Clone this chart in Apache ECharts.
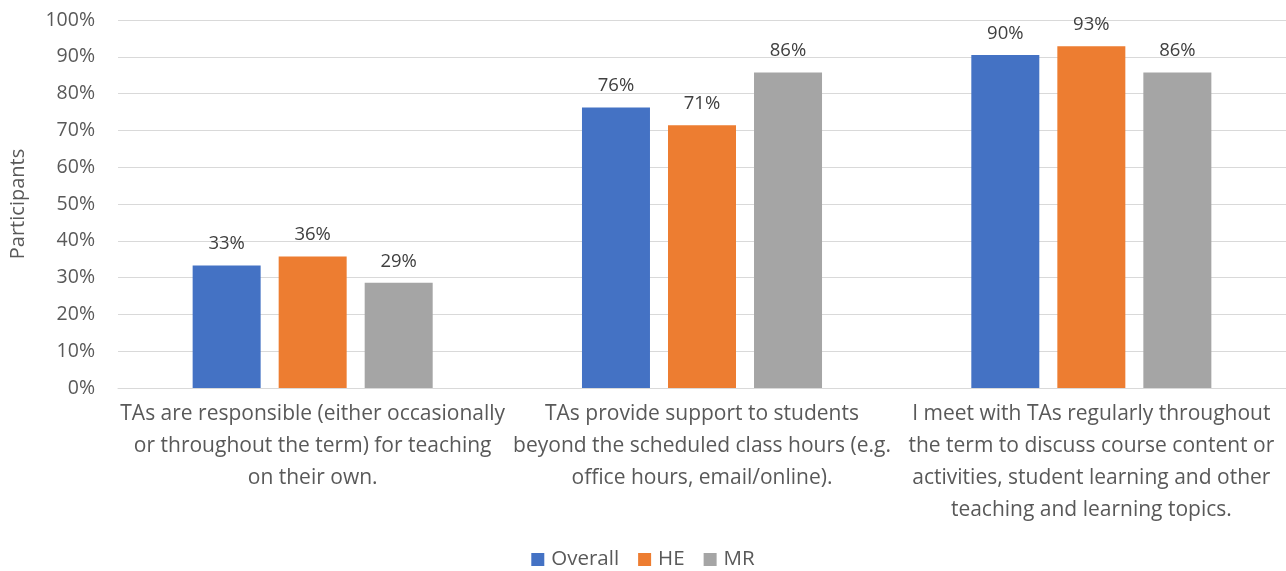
<!DOCTYPE html>
<html>
<head>
<meta charset="utf-8">
<script src="https://cdn.jsdelivr.net/npm/echarts@6/dist/echarts.min.js"></script>
<style>
  html, body { margin: 0; padding: 0; background: #ffffff; }
  #chart { width: 1286px; height: 571px; }
</style>
</head>
<body>
<div id="chart"></div>
<script>
// Statement categories (line breaks follow the wrapped axis text)
const categories = [
  "TAs are responsible (either occasionally\nor throughout the term) for teaching\non their own.",
  "TAs provide support to students\nbeyond the scheduled class hours (e.g.\noffice hours, email/online).",
  "I meet with TAs regularly throughout\nthe term to discuss course content or\nactivities, student learning and other\nteaching and learning topics."
];

// Share of participants (%) per group
const overall = [33.3, 76.2, 90.48];
const he = [35.7, 71.4, 92.9];
const mr = [28.6, 85.7, 85.7];

const seriesNames = ["Overall", "HE", "MR"];
const seriesColors = ["#4472C4", "#ED7D31", "#A5A5A5"];

const FONT = "Open Sans";
const TEXT = "#595959";

const chart = echarts.init(document.getElementById("chart"), null, { renderer: "canvas" });

function barSeries(name, data, color) {
  return {
    name: name,
    type: "bar",
    data: data,
    barWidth: 68,
    barGap: "26.5%",
    itemStyle: { color: color },
    label: {
      show: true,
      position: "top",
      distance: 12,
      color: "#404040",
      fontFamily: FONT,
      fontSize: 18.5,
      formatter: p => Math.round(p.value) + "%"
    }
  };
}

chart.setOption({
  animation: false,
  backgroundColor: "#ffffff",
  textStyle: { fontFamily: FONT },
  grid: { left: 118, right: 0, top: 20, bottom: 183, containLabel: false },
  legend: {
    data: seriesNames,
    bottom: -4,
    left: "center",
    icon: "rect",
    itemWidth: 13,
    itemHeight: 13,
    itemGap: 19,
    textStyle: { color: TEXT, fontFamily: FONT, fontSize: 20.5, padding: [0, 0, 0, 2] }
  },
  xAxis: {
    type: "category",
    data: categories,
    axisLine: { show: true, lineStyle: { color: "#D9D9D9", width: 1 } },
    axisTick: { show: false },
    axisLabel: {
      interval: 0,
      color: TEXT,
      fontFamily: FONT,
      fontSize: 21,
      lineHeight: 32,
      margin: 10,
      align: "center"
    }
  },
  yAxis: {
    type: "value",
    min: 0,
    max: 100,
    interval: 10,
    name: "Participants",
    nameLocation: "middle",
    nameGap: 90,
    nameRotate: 90,
    nameTextStyle: { color: TEXT, fontFamily: FONT, fontSize: 20 },
    axisLine: { show: false },
    axisTick: { show: false },
    axisLabel: { color: TEXT, fontFamily: FONT, fontSize: 19.5, margin: 23, formatter: v => v + "%" },
    splitLine: { lineStyle: { color: "#D9D9D9", width: 1 } }
  },
  series: [
    barSeries(seriesNames[0], overall, seriesColors[0]),
    barSeries(seriesNames[1], he, seriesColors[1]),
    barSeries(seriesNames[2], mr, seriesColors[2])
  ]
});
</script>
</body>
</html>
